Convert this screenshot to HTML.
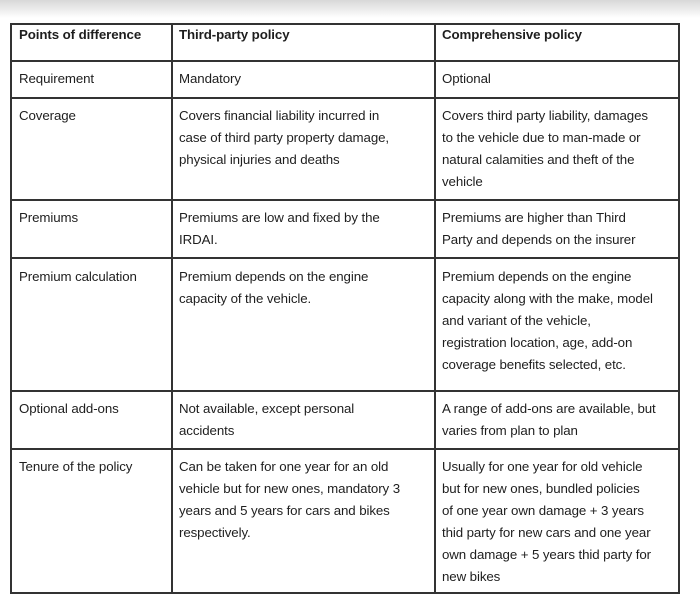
<!DOCTYPE html><html><head><style>
body{margin:0;width:700px;height:610px;background:#fff;position:relative;overflow:hidden;font-family:"Liberation Sans",sans-serif;color:#1e1e1e;}
.top{position:absolute;left:0;top:0;width:700px;height:18px;background:linear-gradient(#d8d8d8,#fff);}
.h{position:absolute;height:2px;background:#333;left:10px;width:670px}
.v{position:absolute;width:2px;background:#333;top:23px;height:571px}
.t{position:absolute;font-size:13.3px;line-height:22px;white-space:nowrap;letter-spacing:-0.1px}
b{font-weight:bold}
</style></head><body>
<div class="top"></div>
<div class="h" style="top:23px"></div><div class="h" style="top:60px"></div><div class="h" style="top:97px"></div><div class="h" style="top:199px"></div><div class="h" style="top:257px"></div><div class="h" style="top:390px"></div><div class="h" style="top:448px"></div><div class="h" style="top:592px"></div>
<div class="v" style="left:10px"></div><div class="v" style="left:171px"></div><div class="v" style="left:434px"></div><div class="v" style="left:678px"></div>
<div class="t" style="left:19px;top:24px"><b>Points of difference</b></div>
<div class="t" style="left:179px;top:24px"><b>Third-party policy</b></div>
<div class="t" style="left:442px;top:24px"><b>Comprehensive policy</b></div>
<div class="t" style="left:19px;top:68px">Requirement</div>
<div class="t" style="left:179px;top:68px">Mandatory</div>
<div class="t" style="left:442px;top:68px">Optional</div>
<div class="t" style="left:19px;top:105px">Coverage</div>
<div class="t" style="left:179px;top:105px">Covers financial liability incurred in<br>case of third party property damage,<br>physical injuries and deaths</div>
<div class="t" style="left:442px;top:105px">Covers third party liability, damages<br>to the vehicle due to man-made or<br>natural calamities and theft of the<br>vehicle</div>
<div class="t" style="left:19px;top:207px">Premiums</div>
<div class="t" style="left:179px;top:207px">Premiums are low and fixed by the<br>IRDAI.</div>
<div class="t" style="left:442px;top:207px">Premiums are higher than Third<br>Party and depends on the insurer</div>
<div class="t" style="left:19px;top:266px">Premium calculation</div>
<div class="t" style="left:179px;top:266px">Premium depends on the engine<br>capacity of the vehicle.</div>
<div class="t" style="left:442px;top:266px">Premium depends on the engine<br>capacity along with the make, model<br>and variant of the vehicle,<br>registration location, age, add-on<br>coverage benefits selected, etc.</div>
<div class="t" style="left:19px;top:398px">Optional add-ons</div>
<div class="t" style="left:179px;top:398px">Not available, except personal<br>accidents</div>
<div class="t" style="left:442px;top:398px">A range of add-ons are available, but<br>varies from plan to plan</div>
<div class="t" style="left:19px;top:456px">Tenure of the policy</div>
<div class="t" style="left:179px;top:456px">Can be taken for one year for an old<br>vehicle but for new ones, mandatory 3<br>years and 5 years for cars and bikes<br>respectively.</div>
<div class="t" style="left:442px;top:456px">Usually for one year for old vehicle<br>but for new ones, bundled policies<br>of one year own damage + 3 years<br>thid party for new cars and one year<br>own damage + 5 years thid party for<br>new bikes</div>
</body></html>
